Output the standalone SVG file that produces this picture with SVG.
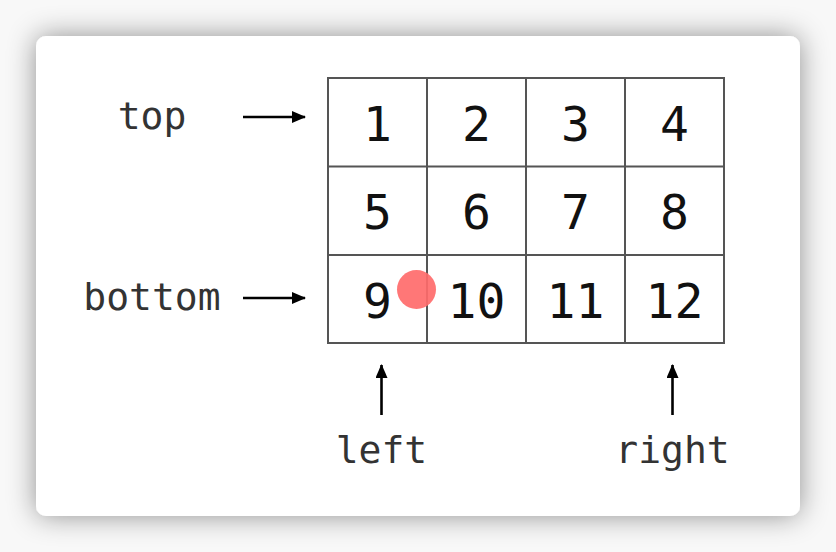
<svg xmlns="http://www.w3.org/2000/svg" width="836" height="552" viewBox="0 0 836 552">
  <defs>
    <filter id="shadow" x="-20%" y="-20%" width="140%" height="140%">
      <feDropShadow dx="0" dy="0" stdDeviation="14" flood-color="#000" flood-opacity="0.42"/>
    </filter>
    <marker id="arrow" markerWidth="14" markerHeight="12" refX="13" refY="6" orient="auto" markerUnits="userSpaceOnUse">
      <path d="M0,0 L14,6 L0,12 Z" fill="#000"/>
    </marker>
    <style>
      .cell { fill: none; stroke: #555; stroke-width: 2; }
      .num { font-family: "DejaVu Sans Mono", monospace; font-size: 48px; fill: #111; text-anchor: middle; }
      .lbl { font-family: "DejaVu Sans Mono", monospace; font-size: 38px; fill: #333; text-anchor: middle; }
      .conn { stroke: #000; stroke-width: 2.6; fill: none; marker-end: url(#arrow); }
    </style>
  </defs>
  <rect x="0" y="0" width="836" height="552" fill="#f8f8f8"/>
  <rect x="36" y="36" width="764" height="480" rx="10" fill="#fff" filter="url(#shadow)"/>

  <g id="grid">
    <rect class="cell" x="328" y="78" width="396" height="265"/>
    <line class="cell" x1="427" y1="78" x2="427" y2="343"/>
    <line class="cell" x1="526" y1="78" x2="526" y2="343"/>
    <line class="cell" x1="625" y1="78" x2="625" y2="343"/>
    <line class="cell" x1="328" y1="166.5" x2="724" y2="166.5"/>
    <line class="cell" x1="328" y1="255" x2="724" y2="255"/>
  </g>
  <g id="c1"><text class="num" x="377.5" y="141">1</text></g>
  <g id="c2"><text class="num" x="476.5" y="141">2</text></g>
  <g id="c3"><text class="num" x="575.5" y="141">3</text></g>
  <g id="c4"><text class="num" x="674.5" y="141">4</text></g>
  <g id="c5"><text class="num" x="377.5" y="229">5</text></g>
  <g id="c6"><text class="num" x="476.5" y="229">6</text></g>
  <g id="c7"><text class="num" x="575.5" y="229">7</text></g>
  <g id="c8"><text class="num" x="674.5" y="229">8</text></g>
  <g id="c9"><text class="num" x="377.5" y="318">9</text></g>
  <g id="c10"><text class="num" x="476.5" y="318">10</text></g>
  <g id="c11"><text class="num" x="575.5" y="318">11</text></g>
  <g id="c12"><text class="num" x="674.5" y="318">12</text></g>
  <g id="dot"><circle cx="416.5" cy="289.5" r="19.5" fill="#ff6b6b" fill-opacity="0.92"/></g>

  <g id="label-top"><text class="lbl" x="152" y="129">top</text></g>
  <g id="label-bottom"><text class="lbl" x="152" y="310">bottom</text></g>
  <g id="label-left"><text class="lbl" x="381.5" y="463">left</text></g>
  <g id="label-right"><text class="lbl" x="672.5" y="463">right</text></g>

  <g id="connectors">
    <line class="conn" x1="243" y1="117" x2="305" y2="117"/>
    <line class="conn" x1="243" y1="298" x2="305" y2="298"/>
    <line class="conn" x1="381.5" y1="415" x2="381.5" y2="365"/>
    <line class="conn" x1="672.5" y1="415" x2="672.5" y2="365"/>
  </g>
</svg>
